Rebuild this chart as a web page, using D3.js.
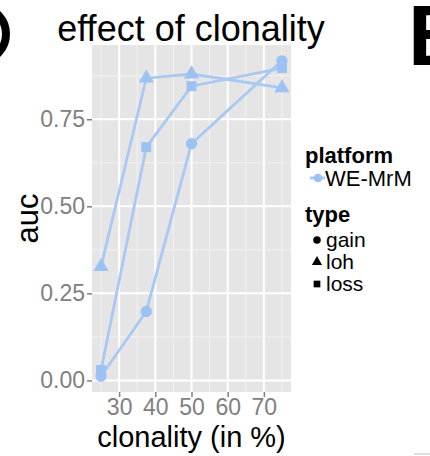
<!DOCTYPE html>
<html>
<head>
<meta charset="utf-8">
<script src="https://cdn.jsdelivr.net/npm/d3@7"></script>
<style>
  body { margin: 0; background: #fff; }
  text { font-family: "Liberation Sans", Arial, sans-serif; }
</style>
</head>
<body>
<div id="chart"></div>
<script>
// clonality levels (x) and auc per type
const clonality = [25, 37.5, 50, 75];
const gainAuc = [0.012, 0.198, 0.68, 0.918];
const lohAuc = [0.327, 0.868, 0.88, 0.84];
const lossAuc = [0.03, 0.67, 0.845, 0.897];
const types = ["gain", "loh", "loss"];
const platforms = ["WE-MrM"];
const xTicks = [30, 40, 50, 60, 70];
const yTicks = [0, 0.25, 0.5, 0.75];

const W = 430, H = 456;
const panel = {left: 92, right: 291, top: 45, bottom: 392};
const lineColor = "#a9c8f3";
const pointColor = "#9cc2f4";

const series = [
  {type: "gain", values: gainAuc},
  {type: "loh", values: lohAuc},
  {type: "loss", values: lossAuc}
];

const svg = d3.select("#chart").append("svg")
    .attr("width", W).attr("height", H);

// ggplot style expansion of 5%
const allY = gainAuc.concat(lohAuc, lossAuc);
const yMin = d3.min(allY), yMax = d3.max(allY);
const yPad = (yMax - yMin) * 0.05;
const xPad = (d3.max(clonality) - d3.min(clonality)) * 0.05;

const x = d3.scaleLinear()
    .domain([d3.min(clonality) - xPad, d3.max(clonality) + xPad])
    .range([panel.left, panel.right]);
const y = d3.scaleLinear()
    .domain([yMin - yPad, yMax + yPad])
    .range([panel.bottom, panel.top]);

// panel background
svg.append("rect")
    .attr("x", panel.left).attr("y", panel.top)
    .attr("width", panel.right - panel.left)
    .attr("height", panel.bottom - panel.top)
    .attr("fill", "#e5e5e5");

// minor grid
const xMinor = [25, 35, 45, 55, 65, 75];
const yMinor = [0.125, 0.375, 0.625, 0.875];
svg.append("g").selectAll("line").data(xMinor).enter().append("line")
    .attr("x1", d => x(d)).attr("x2", d => x(d))
    .attr("y1", panel.top).attr("y2", panel.bottom)
    .attr("stroke", "#f2f2f2").attr("stroke-width", 1);
svg.append("g").selectAll("line").data(yMinor).enter().append("line")
    .attr("y1", d => y(d)).attr("y2", d => y(d))
    .attr("x1", panel.left).attr("x2", panel.right)
    .attr("stroke", "#f2f2f2").attr("stroke-width", 1);

// major grid
svg.append("g").selectAll("line").data(xTicks).enter().append("line")
    .attr("x1", d => x(d)).attr("x2", d => x(d))
    .attr("y1", panel.top).attr("y2", panel.bottom)
    .attr("stroke", "#fff").attr("stroke-width", 2);
svg.append("g").selectAll("line").data(yTicks).enter().append("line")
    .attr("y1", d => y(d)).attr("y2", d => y(d))
    .attr("x1", panel.left).attr("x2", panel.right)
    .attr("stroke", "#fff").attr("stroke-width", 2);

// axes
const xAxis = svg.append("g")
    .attr("transform", `translate(0,${panel.bottom})`)
    .call(d3.axisBottom(x).tickValues(xTicks).tickSize(5).tickPadding(2));
const yAxis = svg.append("g")
    .attr("transform", `translate(${panel.left},0)`)
    .call(d3.axisLeft(y).tickValues(yTicks).tickFormat(d3.format(".2f")).tickSize(5).tickPadding(2));
[xAxis, yAxis].forEach(a => {
  a.select(".domain").remove();
  a.selectAll(".tick line").attr("stroke", "#7f7f7f").attr("stroke-width", 1.5);
  a.selectAll(".tick text").attr("fill", "#808080").style("font-size", "23px");
});

// lines
const line = d3.line().x((d, i) => x(clonality[i])).y(d => y(d));
svg.append("g").selectAll("path").data(series).enter().append("path")
    .attr("d", d => line(d.values))
    .attr("fill", "none")
    .attr("stroke", lineColor)
    .attr("stroke-width", 2.8);

// points
const shape = d3.scaleOrdinal().domain(types)
    .range([d3.symbolCircle, d3.symbolTriangle, d3.symbolSquare]);
series.forEach(s => {
  svg.append("g").selectAll("path").data(s.values).enter().append("path")
      .attr("transform", (d, i) => `translate(${x(clonality[i])},${y(d)})`)
      .attr("d", d3.symbol().type(shape(s.type)).size(100))
      .attr("fill", pointColor);
});

// titles
svg.append("text")
    .attr("x", 191).attr("y", 41)
    .attr("text-anchor", "middle")
    .style("font-size", "36px")
    .text("effect of clonality");
svg.append("text")
    .attr("x", (panel.left + panel.right) / 2).attr("y", 447)
    .attr("text-anchor", "middle")
    .style("font-size", "29px")
    .text("clonality (in %)");
svg.append("text")
    .attr("transform", `translate(38,${(panel.top + panel.bottom) / 2}) rotate(-90)`)
    .attr("text-anchor", "middle")
    .style("font-size", "31px")
    .text("auc");

// legend
const lg = svg.append("g").attr("transform", "translate(305,0)");
lg.append("text").attr("x", 0).attr("y", 163)
    .style("font-size", "22px").style("font-weight", "bold").text("platform");
platforms.forEach((p, i) => {
  const cy = 178 + i * 20;
  lg.append("line").attr("x1", 5).attr("x2", 20).attr("y1", cy).attr("y2", cy)
      .attr("stroke", lineColor).attr("stroke-width", 2.8);
  lg.append("path").attr("transform", `translate(13,${cy})`)
      .attr("d", d3.symbol().type(d3.symbolCircle).size(60)).attr("fill", pointColor);
  lg.append("text").attr("x", 20).attr("y", cy + 8)
      .style("font-size", "22px").text(p);
});
lg.append("text").attr("x", 0).attr("y", 222)
    .style("font-size", "22px").style("font-weight", "bold").text("type");
types.forEach((t, i) => {
  const cy = 240 + i * 22;
  lg.append("path").attr("transform", `translate(12,${cy})`)
      .attr("d", d3.symbol().type(shape(t)).size(45)).attr("fill", "#000");
  lg.append("text").attr("x", 21).attr("y", cy + 7)
      .style("font-size", "21px").text(t);
});

// neighbouring panel fragments
svg.append("path")
    .attr("d", "M -18 8 A 24 26 0 0 1 -18 60")
    .attr("fill", "none").attr("stroke", "#000").attr("stroke-width", 8);
svg.append("text")
    .attr("x", 408).attr("y", 65)
    .style("font-size", "86px").style("font-weight", "bold")
    .text("B");
svg.append("line")
    .attr("x1", 414).attr("x2", 430).attr("y1", 454).attr("y2", 454)
    .attr("stroke", "#bbb").attr("stroke-width", 1);
</script>
</body>
</html>
